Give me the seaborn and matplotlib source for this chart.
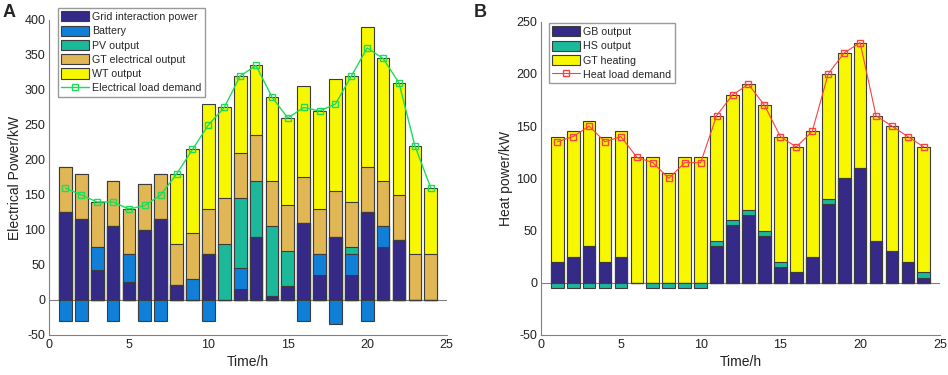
import numpy as np
import pandas as pd
import matplotlib
matplotlib.use("Agg")
import matplotlib.pyplot as plt
from matplotlib.patches import Patch
from matplotlib.lines import Line2D
import seaborn as sns

# ---- data ----
hours = list(range(1, 25))

# panel A: electrical balance
grid = [125, 115, 43, 105, 25, 100, 115, 22, 0, 65, 0, 15, 90, 5, 20, 110, 35, 90, 35, 125, 75, 85, 0, 0]
battery_pos = [0, 0, 32, 0, 40, 0, 0, 0, 30, 0, 0, 30, 0, 0, 0, 0, 30, 0, 30, 0, 30, 0, 0, 0]
battery_neg = [-30, -30, 0, -30, 0, -30, -30, 0, 0, -30, 0, 0, 0, 0, 0, -30, 0, -35, 0, -30, 0, 0, 0, 0]
pv = [0, 0, 0, 0, 0, 0, 0, 0, 0, 0, 80, 100, 80, 100, 50, 0, 0, 0, 10, 0, 0, 0, 0, 0]
gt_elec = [65, 65, 65, 65, 65, 65, 65, 58, 65, 65, 65, 65, 65, 65, 65, 65, 65, 65, 65, 65, 65, 65, 65, 65]
wt = [0, 0, 0, 0, 0, 0, 0, 100, 120, 150, 130, 110, 100, 120, 125, 130, 140, 160, 180, 200, 175, 160, 155, 95]
elec_load = [160, 150, 140, 140, 130, 135, 150, 180, 215, 250, 275, 320, 335, 290, 260, 275, 270, 280, 320, 360, 345, 310, 220, 160]

# panel B: heat balance
gb = [20, 25, 35, 20, 25, 0, 0, 0, 0, 0, 35, 55, 65, 45, 15, 10, 25, 75, 100, 110, 40, 30, 20, 5]
hs_pos = [0, 0, 0, 0, 0, 0, 0, 0, 0, 0, 5, 5, 5, 5, 5, 0, 0, 5, 0, 0, 0, 0, 0, 5]
hs_neg = [-5, -5, -5, -5, -5, 0, -5, -5, -5, -5, 0, 0, 0, 0, 0, 0, 0, 0, 0, 0, 0, 0, 0, 0]
gt_heat = [120, 120, 120, 120, 120, 120, 120, 105, 120, 120, 120, 120, 120, 120, 120, 120, 120, 120, 120, 120, 120, 120, 120, 120]
heat_load = [135, 140, 150, 135, 140, 120, 115, 100, 115, 115, 160, 180, 190, 170, 140, 130, 145, 200, 220, 230, 160, 150, 140, 130]

elec_names = ["Grid interaction power", "Battery", "PV output", "GT electrical output", "WT output"]
elec_colors = ["#352a87", "#0f7fd8", "#1bb89a", "#e1b655", "#f7f700"]
heat_names = ["GB output", "HS output", "GT heating"]
heat_colors = ["#352a87", "#1bb89a", "#f7f700"]

sns.set_style("white")
plt.rcParams["font.family"] = ["Liberation Sans", "DejaVu Sans"]
plt.rcParams["axes.unicode_minus"] = False

GRAY = "#808080"
EDGE = "#3c3c3c"
TXT = "#222222"


def stacked(ax, layers, colors, neg=None, neg_color=None):
    # draw cumulative totals from the top layer down so each layer covers the one above
    cum = np.cumsum(np.array(layers, dtype=float), axis=0)
    for i in range(len(layers) - 1, -1, -1):
        df = pd.DataFrame({"hour": hours, "val": cum[i]})
        sns.barplot(data=df, x="hour", y="val", ax=ax, native_scale=True, orient="x",
                    color=colors[i], saturation=1, width=0.8, errorbar=None,
                    edgecolor=EDGE, linewidth=0.8)
    if neg is not None:
        df = pd.DataFrame({"hour": hours, "val": neg})
        sns.barplot(data=df, x="hour", y="val", ax=ax, native_scale=True, orient="x",
                    color=neg_color, saturation=1, width=0.8, errorbar=None,
                    edgecolor=EDGE, linewidth=0.8)


def style_axes(ax, ylim, yticks):
    ax.axhline(0, color=GRAY, lw=0.8, zorder=0.5)
    ax.set_xlim(0, 25)
    ax.set_xticks([0, 5, 10, 15, 20, 25])
    ax.set_ylim(*ylim)
    ax.set_yticks(yticks)
    for s in ["top", "right"]:
        ax.spines[s].set_visible(False)
    for s in ["left", "bottom"]:
        ax.spines[s].set_color(GRAY)
        ax.spines[s].set_linewidth(0.8)
    ax.tick_params(direction="in", length=3, color=GRAY, labelsize=9, labelcolor=TXT, pad=3)
    ax.set_xlabel("Time/h", fontsize=10, color=TXT, labelpad=3)


def legend(ax, handles, labels, x, y):
    ax.legend(handles, labels, loc="upper left",
              bbox_to_anchor=(x / 948, 1 - y / 375), bbox_transform=fig.transFigure,
              borderaxespad=0, fontsize=7.7, frameon=True, fancybox=False, edgecolor=GRAY,
              handlelength=2.6, handleheight=1.1, handletextpad=0.3, labelspacing=0.33,
              borderpad=0.3)


fig = plt.figure(figsize=(9.48, 3.75), dpi=100)
axA = fig.add_axes([0.0522, 0.1067, 0.419, 0.84])
axB = fig.add_axes([0.571, 0.1067, 0.4203, 0.8355])

# ---- panel A ----
stacked(axA, [grid, battery_pos, pv, gt_elec, wt], elec_colors, battery_neg, elec_colors[1])
sns.lineplot(x=hours, y=elec_load, ax=axA, color="#1edc5a", lw=1, marker="s", markersize=4.5,
             markerfacecolor="none", markeredgecolor="#1edc5a", markeredgewidth=1)
style_axes(axA, (-50, 400), np.arange(-50, 401, 50))
axA.set_ylabel("Electrical Power/kW", fontsize=10, color=TXT, labelpad=2)

handlesA = [Patch(facecolor=c, edgecolor=EDGE, linewidth=0.8) for c in elec_colors]
handlesA.append(Line2D([], [], color="#1edc5a", lw=1, marker="s", markersize=4.5,
                       markerfacecolor="none", markeredgecolor="#1edc5a"))
legend(axA, handlesA, elec_names + ["Electrical load demand"], 58, 8)

# ---- panel B ----
stacked(axB, [gb, hs_pos, gt_heat], heat_colors, hs_neg, heat_colors[1])
sns.lineplot(x=hours, y=heat_load, ax=axB, color="#ff4040", lw=0.8, marker="s", markersize=4.5,
             markerfacecolor="none", markeredgecolor="#ff4040", markeredgewidth=1)
style_axes(axB, (-50, 250), np.arange(-50, 251, 50))
axB.set_ylabel("Heat power/kW", fontsize=10, color=TXT, labelpad=2)

handlesB = [Patch(facecolor=c, edgecolor=EDGE, linewidth=0.8) for c in heat_colors]
handlesB.append(Line2D([], [], color="#ff4040", lw=0.8, marker="s", markersize=4.5,
                       markerfacecolor="none", markeredgecolor="#ff4040"))
legend(axB, handlesB, heat_names + ["Heat load demand"], 549, 23)

fig.text(0.003, 0.99, "A", fontsize=13, fontweight="bold", va="top", ha="left")
fig.text(0.500, 0.99, "B", fontsize=13, fontweight="bold", va="top", ha="left")

fig.savefig("out.png", dpi=100)
